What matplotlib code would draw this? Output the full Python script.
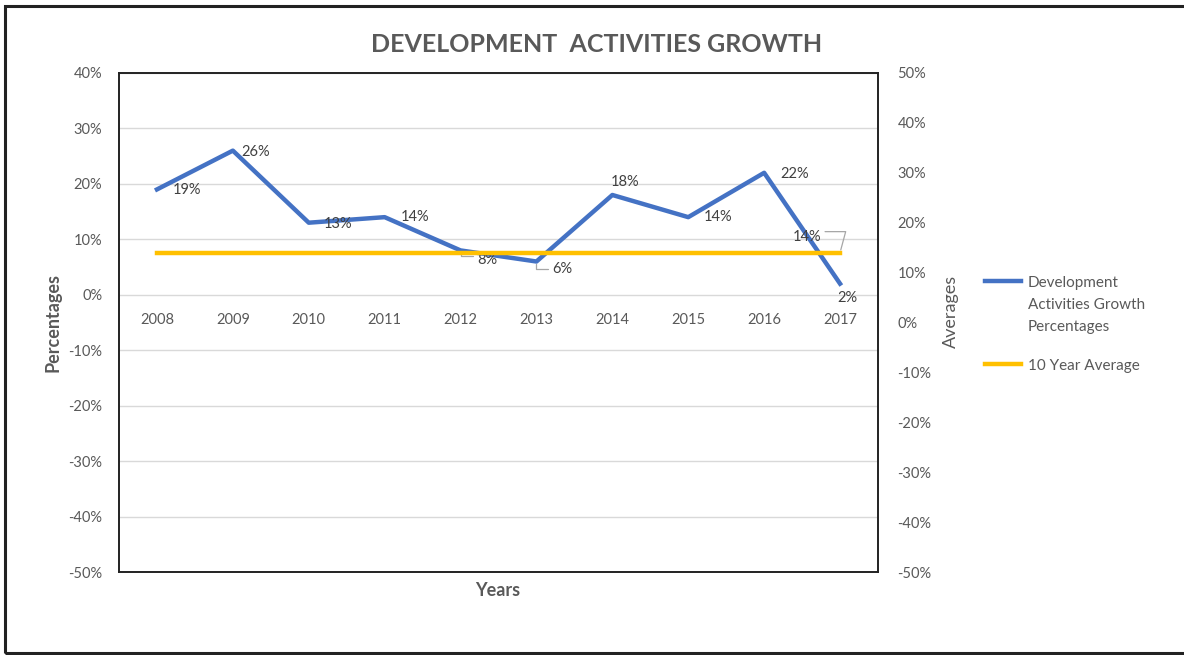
import matplotlib
matplotlib.use("Agg")
import matplotlib.pyplot as plt
from matplotlib.ticker import FuncFormatter
from matplotlib.lines import Line2D
from matplotlib.patches import Rectangle

years = ["2008", "2009", "2010", "2011", "2012", "2013", "2014", "2015", "2016", "2017"]
growth = [19, 26, 13, 14, 8, 6, 18, 14, 22, 2]
average = 14
left_ticks = [40, 30, 20, 10, 0, -10, -20, -30, -40, -50]
right_ticks = [50, 40, 30, 20, 10, 0, -10, -20, -30, -40, -50]
series_names = ["Development\nActivities Growth\nPercentages", "10 Year Average"]

BLUE = "#4472C4"
GOLD = "#FFC000"
GREY = "#595959"
LABEL = "#404040"
FONT = "Lato"

plt.rcParams["font.family"] = [FONT, "DejaVu Sans"]

W, H = 1184, 655
fig = plt.figure(figsize=(W / 100, H / 100), dpi=100)

# outer frame
fig.patches.append(Rectangle((5 / W, 2 / H), 1.2, 1 - 8 / H, transform=fig.transFigure,
                             fill=False, edgecolor="#222222", linewidth=2.2))

left, right, top, bottom = 119, 878, 73, 572
ax = fig.add_axes([left / W, 1 - bottom / H, (right - left) / W, (bottom - top) / H])
ax2 = ax.twinx()

x = list(range(len(years)))
ax.set_xlim(-0.5, len(years) - 0.5)
ax.set_ylim(-50, 40)
ax2.set_ylim(-50, 50)

ax.set_yticks(left_ticks)
ax2.set_yticks(right_ticks)
pct = FuncFormatter(lambda v, _: f"{v:.0f}%")
ax.yaxis.set_major_formatter(pct)
ax2.yaxis.set_major_formatter(pct)
for a in (ax, ax2):
    a.tick_params(axis="y", length=0, labelsize=10.5, labelcolor=GREY)
ax.tick_params(axis="y", pad=12)
ax2.tick_params(axis="y", pad=14)
ax.set_xticks([])
ax.grid(axis="y", color="#d9d9d9", linewidth=1)
ax.set_axisbelow(True)
for a in (ax, ax2):
    for s in a.spines.values():
        s.set_color("#222222")
        s.set_linewidth(1.2)

# year labels sit just under the zero line
for xi, yr in zip(x, years):
    ax.annotate(yr, (xi, 0), xytext=(0, -25), textcoords="offset pixels",
                ha="center", va="center", fontsize=10.5, color=GREY)

ax.plot(x, growth, color=BLUE, linewidth=3.2, solid_joinstyle="round", zorder=4)
ax2.plot([x[0], x[-1]], [average, average], color=GOLD, linewidth=3.2, zorder=3)

# data labels (offsets in pixels)
label_offsets = [(30, -1), (23, -1), (29, -1), (30, 0), (27, -10), (26, -7),
                 (13, 13), (30, 0), (30, -1), (7, -14)]
for xi, v, off in zip(x, growth, label_offsets):
    ax.annotate(f"{v}%", (xi, v), xytext=off, textcoords="offset pixels",
                ha="center", va="center", fontsize=10.5, color=LABEL, zorder=6)


def leader(axes, xy, start, angle_b):
    axes.annotate("", xy=xy, xytext=start, textcoords="offset pixels",
                  arrowprops=dict(arrowstyle="-", color="#a6a6a6", linewidth=0.9,
                                  shrinkA=0, shrinkB=2,
                                  connectionstyle=f"angle,angleA=0,angleB={angle_b},rad=0"),
                  zorder=5)


# leader lines for the crowded labels
leader(ax, (x[4], growth[4]), (12, -6), 90)
leader(ax, (x[5], growth[5]), (12, -7), 90)
ax2.annotate(f"{average}%", (x[-1], average), xytext=(-33, 16), textcoords="offset pixels",
             ha="center", va="center", fontsize=10.5, color=LABEL, zorder=6)
leader(ax2, (x[-1], average), (-15, 21), 75)

# titles
fig.text(597 / W, 1 - 45 / H, "DEVELOPMENT  ACTIVITIES GROWTH", ha="center", va="center",
         fontsize=18, fontweight="bold", color=GREY)
fig.text(53 / W, 1 - 322 / H, "Percentages", rotation=90, ha="center", va="center",
         fontsize=13, fontweight="bold", color=GREY)
fig.text(951 / W, 1 - 311 / H, "Averages", rotation=90, ha="center", va="center",
         fontsize=13, color=GREY)
fig.text(498 / W, 1 - 590 / H, "Years", ha="center", va="center",
         fontsize=13, fontweight="bold", color=GREY)

# legend: key line beside the first text line of each entry
for (name, color, ky) in zip(series_names, (BLUE, GOLD), (281, 364)):
    fig.add_artist(Line2D([985 / W, 1021 / W], [1 - ky / H, 1 - ky / H],
                          color=color, linewidth=3.2, transform=fig.transFigure))
    fig.text(1028 / W, 1 - (ky - 5) / H, name, ha="left", va="top",
             fontsize=11, color=GREY, linespacing=1.72)

fig.savefig("out.png", dpi=100)
